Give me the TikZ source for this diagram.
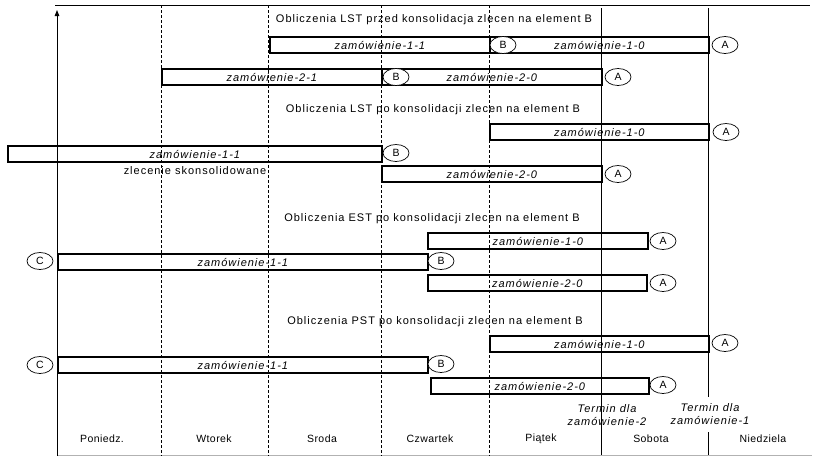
\documentclass[tikz,border=0pt]{standalone}
\usepackage{fontspec}
\setmainfont{Liberation Sans}[LetterSpace=9]
\newfontfamily\dayfont{Liberation Sans}[LetterSpace=4]
\newfontfamily\tagfont{Liberation Sans}
\usetikzlibrary{shapes.geometric,arrows.meta}
\begin{document}
\begin{tikzpicture}[x=1pt,y=-1pt,
  bar/.style={draw,line width=1.6pt,inner sep=0pt,minimum height=16pt,anchor=west,font=\fontsize{11}{12}\selectfont\itshape},
  tag/.style={draw,ellipse,line width=0.7pt,inner sep=0pt,minimum width=26pt,minimum height=17pt,font=\tagfont\fontsize{10.5}{11}\selectfont,fill=white},
  title/.style={font=\fontsize{11}{12}\selectfont},
  day/.style={font=\dayfont\fontsize{10.5}{12}\selectfont},
  due/.style={font=\fontsize{11}{13}\selectfont\itshape,align=center},
  grid/.style={line width=0.7pt},
  dgrid/.style={line width=0.7pt,dash pattern=on 3pt off 2pt}]
\useasboundingbox (0,0) rectangle (814,456);
% frame and time axis
\draw[line width=0.9pt] (55,5) -- (810,5);
\draw[gray!60,line width=0.8pt] (57,455) -- (812,455);
\draw[line width=1pt,-{Triangle[length=6pt,width=4.5pt]}] (57,456) -- (57,10);
% day separators
\foreach \x in {161,268,381,489} \draw[dgrid] (\x,5) -- (\x,456);
\draw[grid] (601,8) -- (601,455);
\draw[grid] (708,8) -- (708,397);
\draw[grid] (708,432) -- (708,455);
% day names
\node[day] (d1) at (102,439) {Poniedz.};
\node[day] (d2) at (214,439) {Wtorek};
\node[day] (d3) at (322,439) {Sroda};
\node[day] (d4) at (430,439) {Czwartek};
\node[day] (d5) at (541,439) {Piątek};
\node[day] (d6) at (651,439) {Sobota};
\node[day] (d7) at (763,439) {Niedziela};
% due dates
\node[due] (t2) at (607,415) {Termin dla\\zamówienie-2};
\node[due] (t1) at (710,414) {Termin dla\\zamówienie-1};

% --- LST before consolidation
\node[title] (h1) at (434,20) {Obliczenia LST przed konsolidacja zlecen na element B};
\node[bar,minimum width=220pt] (p11) at (269,45) {zamówienie-1-1};
\node[bar,minimum width=219pt] (p10) at (489,45) {zamówienie-1-0};
\node[tag] (pb1) at (503,45) {B};
\node[tag] (pa1) at (725,45) {A};
\node[bar,minimum width=220pt] (p21) at (161,77) {zamówienie-2-1};
\node[bar,minimum width=220pt] (p20) at (381,77) {zamówienie-2-0};
\node[tag] (pb2) at (396,77) {B};
\node[tag] (pa2) at (618,77) {A};

% --- LST after consolidation
\node[title] (h2) at (433,110) {Obliczenia LST po konsolidacji zlecen na element B};
\node[bar,minimum width=219pt] (q10) at (489,132) {zamówienie-1-0};
\node[tag] (qa1) at (726,132) {A};
\node[bar,minimum width=374pt] (q11) at (7,154) {zamówienie-1-1};
\node[tag] (qb1) at (396,153) {B};
\node[title] (qs) at (195,171) {zlecenie skonsolidowane};
\node[bar,minimum width=220pt] (q20) at (381,174) {zamówienie-2-0};
\node[tag] (qa2) at (618,174) {A};

% --- EST after consolidation
\node[title] (h3) at (432,219) {Obliczenia EST po konsolidacji zlecen na element B};
\node[bar,minimum width=220pt] (e10) at (427,241) {zamówienie-1-0};
\node[tag] (ea1) at (663,241) {A};
\node[tag] (ec1) at (40,261) {C};
\node[bar,minimum width=370pt] (e11) at (57,262) {zamówienie-1-1};
\node[tag] (eb1) at (441,261) {B};
\node[bar,minimum width=219pt] (e20) at (427,283) {zamówienie-2-0};
\node[tag] (ea2) at (663,283) {A};

% --- PST after consolidation
\node[title] (h4) at (435,322) {Obliczenia PST po konsolidacji zlecen na element B};
\node[bar,minimum width=219pt] (s10) at (489,344) {zamówienie-1-0};
\node[tag] (sa1) at (725,343) {A};
\node[tag] (sc1) at (40,365) {C};
\node[bar,minimum width=370pt] (s11) at (57,365) {zamówienie-1-1};
\node[tag] (sb1) at (441,364) {B};
\node[bar,minimum width=218pt] (s20) at (430,386) {zamówienie-2-0};
\node[tag] (sa2) at (663,385) {A};
\end{tikzpicture}
\end{document}
